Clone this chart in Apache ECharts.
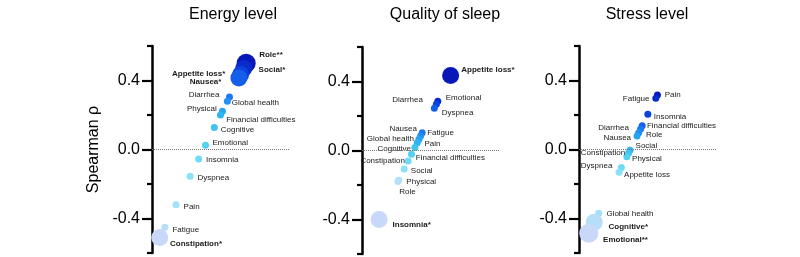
<!DOCTYPE html>
<html>
<head>
<meta charset="utf-8">
<script src="https://cdn.jsdelivr.net/npm/echarts@6/dist/echarts.min.js"></script>
<style>
html,body{margin:0;padding:0;background:#fff;}
#chart{width:800px;height:257px;}
</style>
</head>
<body>
<div id="chart"></div>
<script>
// ---------- DATA ----------
const panelTitles = ['Energy level', 'Quality of sleep', 'Stress level'];
const yAxisTitle = 'Spearman ρ';
const yTickValues = [-0.4, 0.0, 0.4];
const yMinorTickValues = [-0.6, -0.2, 0.2, 0.6];

const energyNames = ['Role','Social','Appetite loss','Nausea','Diarrhea','Global health','Physical','Financial difficulties','Cognitive','Emotional','Insomnia','Dyspnea','Pain','Fatigue','Constipation'];
const energyRho   = [0.50, 0.47, 0.435, 0.415, 0.305, 0.28, 0.222, 0.20, 0.128, 0.025, -0.055, -0.155, -0.32, -0.45, -0.51];
const energySig   = ['**','*','*','*','','','','','','','','','','','*'];

const sleepNames = ['Appetite loss','Emotional','Diarrhea','Dyspnea','Fatigue','Nausea','Global health','Pain','Cognitive','Financial difficulties','Constipation','Social','Physical','Role','Insomnia'];
const sleepRho   = [0.435, 0.285, 0.268, 0.245, 0.103, 0.084, 0.065, 0.045, 0.018, -0.022, -0.061, -0.107, -0.172, -0.18, -0.40];
const sleepSig   = ['*','','','','','','','','','','','','','','*'];

const stressNames = ['Pain','Fatigue','Insomnia','Financial difficulties','Diarrhea','Role','Nausea','Social','Constipation','Physical','Dyspnea','Appetite loss','Global health','Cognitive','Emotional'];
const stressRho   = [0.316, 0.297, 0.204, 0.138, 0.119, 0.097, 0.078, -0.005, -0.022, -0.042, -0.105, -0.132, -0.37, -0.422, -0.486];
const stressSig   = ['','','','','','','','','','','','','','*','**'];

// ---------- LAYOUT / STYLE ----------
// label placement: [side, dx, dy]; 'r' = text starts at dx, 'l' = text ends at dx
const labelPlacement = [
  {'Role':['r',13,-8],'Social':['r',15,1.6],'Appetite loss':['l',-15.3,-0.5],'Nausea':['l',-17.5,4],
   'Diarrhea':['l',-10,-2],'Global health':['r',4.5,2],'Physical':['l',-5.6,-2.7],'Financial difficulties':['r',5.7,4.4],
   'Cognitive':['r',6.4,2.6],'Emotional':['r',7,-2.4],'Insomnia':['r',7.3,1],'Dyspnea':['r',7.4,1.3],
   'Pain':['r',7.6,1.7],'Fatigue':['r',7.6,2.3],'Constipation':['r',10.3,6]},
  {'Appetite loss':['r',10.7,-6],'Emotional':['r',8,-4],'Diarrhea':['l',-13.4,-4.3],'Dyspnea':['r',7.4,5],
   'Fatigue':['r',5,0],'Nausea':['l',-3.6,-7.3],'Global health':['l',-5,-0.6],'Pain':['r',7.3,0.6],
   'Cognitive':['l',-4,1],'Financial difficulties':['r',4.3,4],'Constipation':['l',-3.3,0],'Social':['r',6.6,2],
   'Physical':['r',7.7,2],'Role':['r',1.3,10],'Insomnia':['r',13.4,5.7]},
  {'Pain':['r',7.3,0],'Fatigue':['l',-6.3,0.7],'Insomnia':['r',6,2.7],'Financial difficulties':['r',4.7,0.3],
   'Diarrhea':['l',-11.6,-1.3],'Role':['r',7.3,2.3],'Nausea':['l',-6,1.3],'Social':['r',5.6,-4.3],
   'Constipation':['l',-3.3,-0.6],'Physical':['r',5.3,2.3],'Dyspnea':['l',-9,-2],'Appetite loss':['r',5,3],
   'Global health':['r',7.7,0],'Cognitive':['r',14.3,4.4],'Emotional':['r',14.3,6.7]}
];
const gridLefts = [152, 362, 579];
const gridTops = [46, 47, 46];
const gridWidth = 137, gridHeight = 207;
const titleCenters = [228, 440, 642];
const palette = ['#c8d8f8','#a8e2f8','#7fe0f5','#4ccff1','#2eb4f0','#2296f0','#1a6cf0','#0a3ada','#0818b8'];
const FONT = 'Liberation Sans, Arial, Helvetica, sans-serif';
const symbolSizeFor = s => s === '**' ? 19 : (s === '*' ? 17 : 7);

const panels = [
  {names: energyNames, rho: energyRho, sig: energySig},
  {names: sleepNames, rho: sleepRho, sig: sleepSig},
  {names: stressNames, rho: stressRho, sig: stressSig}
];

const grid = [], xAxis = [], yAxis = [], series = [], visualMap = [], title = [];
panels.forEach((p, i) => {
  grid.push({left: gridLefts[i], top: gridTops[i], width: gridWidth, height: gridHeight});
  xAxis.push({gridIndex: i, type: 'value', min: -0.6, max: 1.0, show: false});
  yAxis.push({
    gridIndex: i, type: 'value', min: -0.6, max: 0.6, interval: 0.2, position: 'left',
    name: i === 0 ? yAxisTitle : '', nameLocation: 'middle', nameGap: 50,
    nameTextStyle: {fontSize: 16, color: '#000', fontFamily: FONT},
    axisLine: {show: true, onZero: false, lineStyle: {color: '#000', width: 2.5}},
    axisTick: {show: true, length: 10, customValues: yTickValues, lineStyle: {color: '#000', width: 2.2}},
    axisLabel: {customValues: yTickValues, formatter: v => Number(v).toFixed(1), fontSize: 16, color: '#000', margin: 12, fontFamily: FONT},
    splitLine: {show: false}
  });
  yAxis.push({
    gridIndex: i, type: 'value', min: -0.6, max: 0.6, interval: 0.2, position: 'left', offset: 0,
    axisLine: {show: false, onZero: false},
    axisTick: {show: true, length: 5, customValues: yMinorTickValues, lineStyle: {color: '#000', width: 2.2}},
    axisLabel: {show: false}, splitLine: {show: false}
  });
  title.push({text: panelTitles[i], left: titleCenters[i], top: 2, textAlign: 'center',
    textStyle: {fontSize: 16, fontWeight: 'normal', color: '#000', fontFamily: FONT}});

  // rank (1 = lowest rho)
  const sortedAsc = p.rho.slice().sort((a, b) => a - b);
  const idx = p.rho.map((v, k) => k).sort((a, b) => p.rho[b] - p.rho[a]); // draw high first
  const data = idx.map(k => {
    const v = p.rho[k], nm = p.names[k], sg = p.sig[k];
    const lp = labelPlacement[i][nm] || ['r', 7, 0];
    return {
      name: nm,
      value: [v, v, sortedAsc.indexOf(v) + 1],
      symbolSize: symbolSizeFor(sg),
      label: {
        show: true, position: 'inside',
        align: lp[0] === 'r' ? 'left' : 'right', verticalAlign: 'middle',
        offset: [lp[1], lp[2]],
        formatter: nm + sg,
        fontSize: 8, fontWeight: sg ? 'bold' : 'normal', color: '#1a1a1a', fontFamily: FONT
      }
    };
  });
  series.push({
    type: 'scatter', xAxisIndex: i, yAxisIndex: 2 * i, data: data,
    itemStyle: {opacity: 1}, emphasis: {disabled: true}, animation: false,
    markLine: {silent: true, symbol: 'none', label: {show: false}, animation: false,
      lineStyle: {type: 'dotted', color: '#777', width: 1}, data: [{yAxis: 0}]}
  });
  visualMap.push({type: 'continuous', show: false, seriesIndex: i, dimension: 2, min: 1, max: p.rho.length,
    inRange: {color: palette}});
});

const chart = echarts.init(document.getElementById('chart'), null, {renderer: 'canvas'});
chart.setOption({backgroundColor: '#fff', animation: false, title, grid, xAxis, yAxis, visualMap, series});
</script>
</body>
</html>
